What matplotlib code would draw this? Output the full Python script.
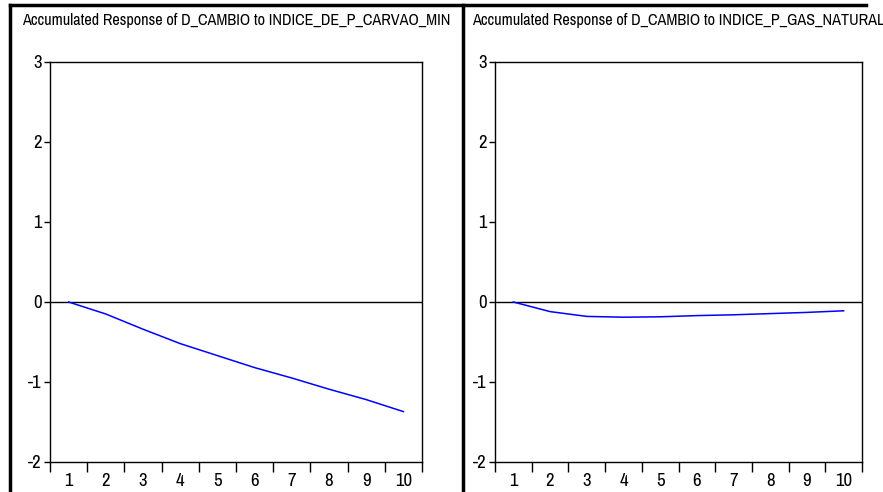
import numpy as np
import matplotlib.pyplot as plt
from matplotlib.lines import Line2D

plt.rcParams['font.family'] = ['Archivo Narrow', 'DejaVu Sans']
plt.rcParams['axes.unicode_minus'] = False

periods = np.arange(1, 11)
carvao = [0.0, -0.15, -0.34, -0.52, -0.67, -0.82, -0.95, -1.09, -1.22, -1.37]
gas = [0.0, -0.12, -0.18, -0.19, -0.185, -0.17, -0.16, -0.145, -0.13, -0.11]
titles = ['Accumulated Response of D_CAMBIO to INDICE_DE_P_CARVAO_MIN',
          'Accumulated Response of D_CAMBIO to INDICE_P_GAS_NATURAL']

fig = plt.figure(figsize=(8.83, 4.92), dpi=100)
W, H = 883, 492
boxes = [(50, 62, 422, 462), (495, 62, 862, 462)]

for (x0, y0, x1, y1), vals, title in zip(boxes, [carvao, gas], titles):
    ax = fig.add_axes([x0 / W, 1 - y1 / H, (x1 - x0) / W, (y1 - y0) / H])
    ax.plot(periods, vals, color='#0000ff', lw=1.1)
    ax.axhline(0, color='black', lw=1.0, zorder=1)
    ax.set_xlim(0.5, 10.5)
    ax.set_ylim(-2, 3)
    ax.set_yticks([-2, -1, 0, 1, 2, 3])
    ax.set_xticks(np.arange(0.5, 11, 1))
    ax.set_xticklabels([])
    ax.set_xticks(periods, minor=True)
    ax.set_xticklabels([str(p) for p in periods], minor=True)
    ax.tick_params(axis='x', which='major', direction='out', length=7, width=1)
    ax.tick_params(axis='x', which='minor', length=0, pad=8, labelsize=13.5)
    ax.tick_params(axis='y', direction='out', length=4, width=1, pad=2, labelsize=13.5)
    ax.xaxis.get_major_ticks()[-1].tick1line.set_color('0.75')
    for s in ax.spines.values():
        s.set_linewidth(1.0)
    fig.text((x0 + x1) / 2 / W, 1 - 20 / H, title, ha='center', va='center', fontsize=11.7)

# panel frames
lw = 2.5
fig.add_artist(Line2D([10 / W, 10 / W], [0, 1 - 5 / H], color='black', lw=lw))
fig.add_artist(Line2D([462.5 / W, 462.5 / W], [0, 1 - 5 / H], color='black', lw=lw))
fig.add_artist(Line2D([10 / W, 866 / W], [1 - 5 / H, 1 - 5 / H], color='black', lw=lw))

fig.savefig('out.png', dpi=100)
